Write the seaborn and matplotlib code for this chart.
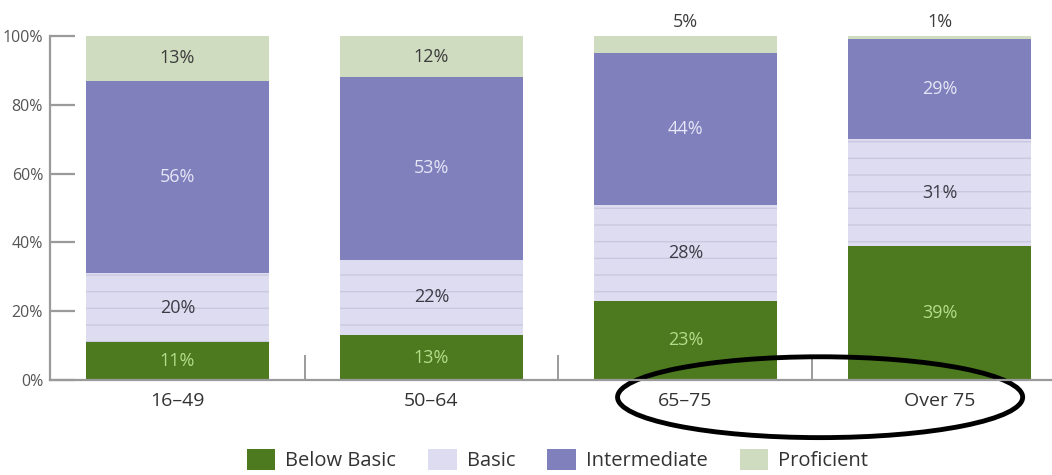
import matplotlib
matplotlib.use("Agg")
import matplotlib.pyplot as plt
import matplotlib.transforms as mtransforms
from matplotlib.patches import Patch, Ellipse
import numpy as np
import pandas as pd
import seaborn as sns

# Literacy levels by age group (percent of adults)
age_groups = ["16\u201349", "50\u201364", "65\u201375", "Over 75"]
levels = ["Below Basic", "Basic", "Intermediate", "Proficient"]
below_basic = [11, 13, 23, 39]
basic = [20, 22, 28, 31]
intermediate = [56, 53, 44, 29]
proficient = [13, 12, 5, 1]
y_ticks = [0, 20, 40, 60, 80, 100]
y_tick_labels = ["0%", "20%", "40%", "60%", "80%", "100%"]

colors = {
    "Below Basic": "#4d7a1e",
    "Basic": "#dedcf0",
    "Intermediate": "#8080bd",
    "Proficient": "#d0dcc0",
}
label_colors = {
    "Below Basic": "#b4dc8c",
    "Basic": "#3c3c46",
    "Intermediate": "#e6e6f6",
    "Proficient": "#3c3c3c",
}
hatch_color = "#c9c8de"

sns.set_theme(style="white")
plt.rcParams["font.family"] = ["Open Sans", "DejaVu Sans"]
plt.rcParams["hatch.linewidth"] = 1.0

df = pd.DataFrame({
    "age": age_groups,
    "Below Basic": below_basic,
    "Basic": basic,
    "Intermediate": intermediate,
    "Proficient": proficient,
})
cum = df[levels].cumsum(axis=1)

fig = plt.figure(figsize=(10.52, 4.75), dpi=100)
ax = fig.add_axes([50 / 1052, 0.2, 1 - 50 / 1052, (380 - 36) / 475])

bar_width = 0.72
# Draw cumulative totals from the top layer down so each layer shows its own share
for lvl in reversed(levels):
    kws = dict(color=colors[lvl], width=bar_width, linewidth=0, saturation=1)
    if lvl == "Basic":
        kws.update(hatch="-", edgecolor=hatch_color)
    sns.barplot(x=df["age"], y=cum[lvl], ax=ax, **kws)

# Value labels
for i in range(len(age_groups)):
    base = 0
    for lvl in levels:
        v = df.loc[i, lvl]
        if v >= 8:
            ax.text(i, base + v / 2, f"{v}%", ha="center", va="center",
                    fontsize=13, color=label_colors[lvl])
        else:
            ax.text(i, base + v + 4.0, f"{v}%", ha="center", va="center",
                    fontsize=13, color="#3c3c3c")
        base += v

ax.set_xlim(-0.502, 3.443)
ax.set_ylim(0, 100)
ax.set_xlabel("")
ax.set_ylabel("")

axis_gray = "#9a9a9a"
for side in ["top", "right"]:
    ax.spines[side].set_visible(False)
for side in ["left", "bottom"]:
    ax.spines[side].set_color(axis_gray)
    ax.spines[side].set_linewidth(1.6)

ax.set_yticks(y_ticks)
ax.set_yticklabels(y_tick_labels)
ax.tick_params(axis="y", direction="in", length=18, width=1.6, color=axis_gray,
               pad=5, labelsize=11.5, labelcolor="#555555", left=True)

ax.set_xticks(range(len(age_groups)))
ax.set_xticklabels(age_groups)
ax.tick_params(axis="x", which="major", length=0, pad=9, labelsize=14,
               labelcolor="#333333")
ax.set_xticks([0.5, 1.5, 2.5], minor=True)
ax.tick_params(axis="x", which="minor", direction="in", length=18, width=1.2,
               color="#8a8a8a", bottom=True)

# Highlight ring around the two oldest groups
trans = mtransforms.blended_transform_factory(ax.transData, ax.transAxes)
ring = Ellipse((2.53, -0.05), width=1.595, height=0.235, transform=trans,
               fill=False, edgecolor="black", linewidth=3.5, clip_on=False)
ax.add_patch(ring)

handles = [Patch(facecolor=colors[l], edgecolor="none", label=l) for l in levels]
fig.legend(handles=handles, loc="center", bbox_to_anchor=(0.530, 0.032), ncol=4,
           frameon=False, fontsize=14.5, handlelength=1.4, handleheight=1.25,
           handletextpad=0.5, columnspacing=1.6, labelcolor="#333333",
           borderpad=0.2)

fig.savefig("out.png", dpi=100)
